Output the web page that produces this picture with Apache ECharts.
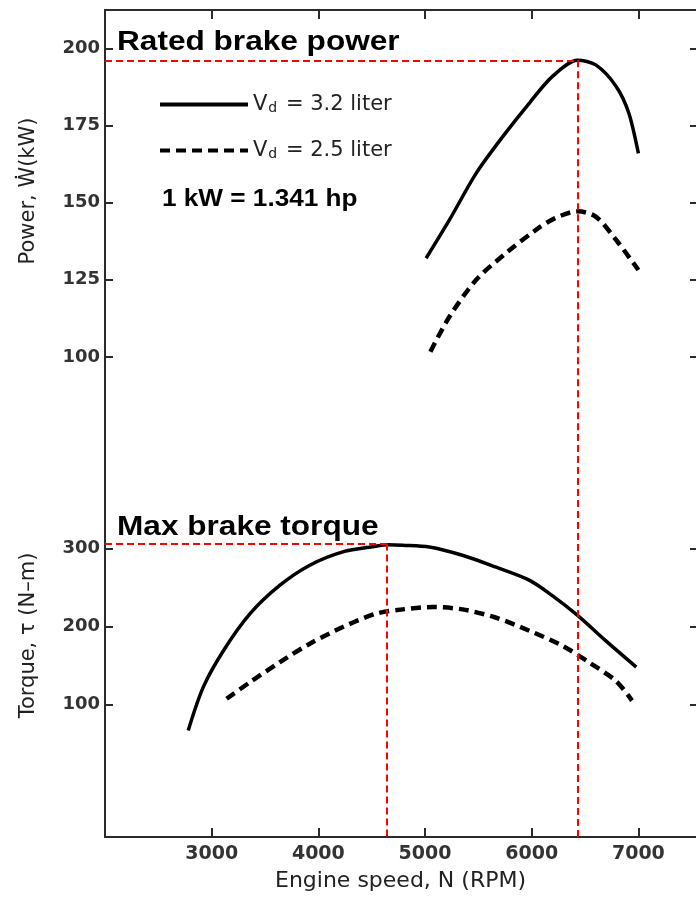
<!DOCTYPE html>
<html>
<head>
<meta charset="utf-8">
<title>Engine power and torque vs speed</title>
<script src="https://cdn.jsdelivr.net/npm/echarts@6/dist/echarts.min.js"></script>
<style>
	html, body { margin: 0; padding: 0; background: #fff; }
	#chart { width: 696px; height: 901px; }
</style>
</head>
<body>
<div id="chart"></div>
<script>
const rpmTicks = [3000, 4000, 5000, 6000, 7000]
const powerTicks = [100, 125, 150, 175, 200]
const torqueTicks = [100, 200, 300]

const powerRpm32 = [5010, 5230, 5480, 5730, 5980, 6190, 6430, 6600, 6790, 6910, 7000]
const power32 = [132, 144.5, 159.6, 171.5, 182.4, 190.8, 196.2, 194.7, 187.8, 179.1, 166]
const powerRpm25 = [5050, 5230, 5480, 5760, 6040, 6220, 6430, 6600, 6790, 7000]
const power25 = [101.7, 113.1, 125, 133.7, 141.2, 145, 147.2, 145.5, 138, 128.2]

const torqueRpm32 = [2780, 2920, 3110, 3360, 3640, 3920, 4230, 4540, 4650, 4790, 5040, 5350, 5660, 5980, 6190, 6430, 6690, 6980]
const torque32 = [66.6, 122, 169, 216.5, 253, 278.7, 295.8, 303, 305, 304.4, 302, 291.4, 276.4, 259.3, 240, 214.3, 182.2, 148]
const torqueRpm25 = [3140, 3360, 3640, 3920, 4230, 4540, 4790, 5070, 5350, 5660, 5980, 6290, 6540, 6790, 6940]
const torque25 = [107.3, 128.7, 154.4, 178, 199.4, 216.5, 222, 225, 222, 211.6, 194.5, 175.2, 153.8, 130.2, 105]

const ratedRpm = 6430
const ratedPower = 196.2
const maxTorqueRpm = 4640
const maxTorque = 306.5

const rpmMin = 2000, rpmMax = 7540
const powerMin = 75, powerMax = 212.5
const torqueMin = -70, torqueMax = 447

const font = 'DejaVu Sans'
const ink = '#222'

const pairs = function(xs, ys) {
	return xs.map((x, i) => [x, ys[i]])
}

const frameLine = { show: true, onZero: false, lineStyle: { color: '#2b2b2b', width: 2 } }
const tickStyle = { color: '#2b2b2b', width: 2 }

const redLines = function(data) {
	return {
		silent: true,
		symbol: 'none',
		animation: false,
		label: { show: false },
		lineStyle: { color: '#ff0000', width: 2, type: [7, 4] },
		data: data
	}
}

const curve = function(name, xi, yi, data, dashed, markLine) {
	let s = {
		name: name,
		type: 'line',
		xAxisIndex: xi,
		yAxisIndex: yi,
		data: data,
		smooth: 0.3,
		symbol: 'none',
		itemStyle: { color: '#000' },
		lineStyle: dashed ? { color: '#000', width: 4.5, type: [10, 6] } : { color: '#000', width: 3.5 }
	}
	if (markLine) s.markLine = markLine
	return s
}

const rightAxis = function(grid, min, max, ticks) {
	return {
		gridIndex: grid, type: 'value', position: 'right', min: min, max: max,
		axisLine: { show: false, onZero: false },
		axisTick: { inside: true, length: 6, customValues: ticks, lineStyle: tickStyle },
		axisLabel: { show: false },
		splitLine: { show: false }
	}
}

const leftAxis = function(grid, min, max, ticks, name, pad) {
	return {
		gridIndex: grid, type: 'value', position: 'left', min: min, max: max,
		axisLine: frameLine,
		axisTick: { inside: true, length: 8, customValues: ticks, lineStyle: tickStyle },
		axisLabel: { customValues: ticks, margin: 5, fontSize: 18, fontWeight: 'bold', fontFamily: font, color: '#333' },
		splitLine: { show: false },
		name: name,
		nameLocation: 'middle',
		nameGap: 66,
		nameTextStyle: { fontSize: 21, fontFamily: font, color: ink, padding: pad }
	}
}

const bigText = function(text, x, y, size, sx) {
	return {
		type: 'text', x: x, y: y, scaleX: sx,
		style: { text: text, fontSize: size, fontWeight: 'bold', fontFamily: 'Liberation Sans', fill: '#000', align: 'left', verticalAlign: 'middle' }
	}
}

const option = {
	backgroundColor: '#fff',
	animation: false,
	grid: [
		{ left: 105, width: 592, top: 10, height: 424 },
		{ left: 105, width: 592, top: 434, height: 403 }
	],
	legend: {
		orient: 'vertical',
		left: 153,
		top: 77,
		itemWidth: 88,
		itemHeight: 14,
		itemGap: 13,
		selectedMode: false,
		data: ['3.2', '2.5'],
		itemStyle: { color: 'rgba(0,0,0,0)', borderWidth: 0 },
		lineStyle: { width: 4, color: '#000' },
		formatter: function(n) {
			return '{v|V}{s|d}{v| = ' + n + ' liter}'
		},
		textStyle: {
			rich: {
				v: { fontSize: 21, fontFamily: font, color: ink, lineHeight: 21, verticalAlign: 'middle' },
				s: { fontSize: 14, fontFamily: font, color: ink, lineHeight: 14, verticalAlign: 'bottom', padding: [19, 2, 0, 1] }
			}
		}
	},
	graphic: [
		bigText('Rated brake power', 117, 43, 27, 1.17),
		bigText('Max brake torque', 117, 528, 27, 1.17),
		bigText('1 kW = 1.341 hp', 162, 199, 24, 1.09)
	],
	xAxis: [
		{
			gridIndex: 0, type: 'value', position: 'top', min: rpmMin, max: rpmMax,
			axisLine: frameLine,
			axisTick: { inside: true, length: 9, customValues: rpmTicks, lineStyle: tickStyle },
			axisLabel: { show: false },
			splitLine: { show: false }
		},
		{
			gridIndex: 1, type: 'value', position: 'bottom', min: rpmMin, max: rpmMax,
			axisLine: frameLine,
			axisTick: { inside: true, length: 9, customValues: rpmTicks, lineStyle: tickStyle },
			axisLabel: {
				customValues: rpmTicks, margin: 8, fontSize: 19, fontWeight: 'bold', fontFamily: font, color: '#333',
				formatter: function(v) {
					return String(v)
				}
			},
			splitLine: { show: false },
			name: 'Engine speed, N (RPM)',
			nameLocation: 'middle',
			nameGap: 33,
			nameTextStyle: { fontSize: 22, fontFamily: font, color: ink }
		}
	],
	yAxis: [
		leftAxis(0, powerMin, powerMax, powerTicks, 'Power, Ẇ(kW)', [0, 0, 0, 62]),
		leftAxis(1, torqueMin, torqueMax, torqueTicks, 'Torque, τ (N–m)', [0, 0, 0, 0]),
		rightAxis(0, powerMin, powerMax, powerTicks),
		rightAxis(1, torqueMin, torqueMax, torqueTicks)
	],
	series: [
		curve('3.2', 0, 0, pairs(powerRpm32, power32), false, redLines([
			[{ coord: [rpmMin, ratedPower] }, { coord: [ratedRpm, ratedPower] }],
			[{ coord: [ratedRpm, ratedPower] }, { coord: [ratedRpm, powerMin] }]
		])),
		curve('2.5', 0, 0, pairs(powerRpm25, power25), true),
		curve('3.2', 1, 1, pairs(torqueRpm32, torque32), false, redLines([
			[{ coord: [rpmMin, maxTorque] }, { coord: [maxTorqueRpm, maxTorque] }],
			[{ coord: [maxTorqueRpm, maxTorque] }, { coord: [maxTorqueRpm, torqueMin] }],
			[{ coord: [ratedRpm, torqueMax] }, { coord: [ratedRpm, torqueMin] }]
		])),
		curve('2.5', 1, 1, pairs(torqueRpm25, torque25), true)
	]
}

const chart = echarts.init(document.getElementById('chart'))
chart.setOption(option)
window.addEventListener('resize', chart.resize)
</script>
</body>
</html>
